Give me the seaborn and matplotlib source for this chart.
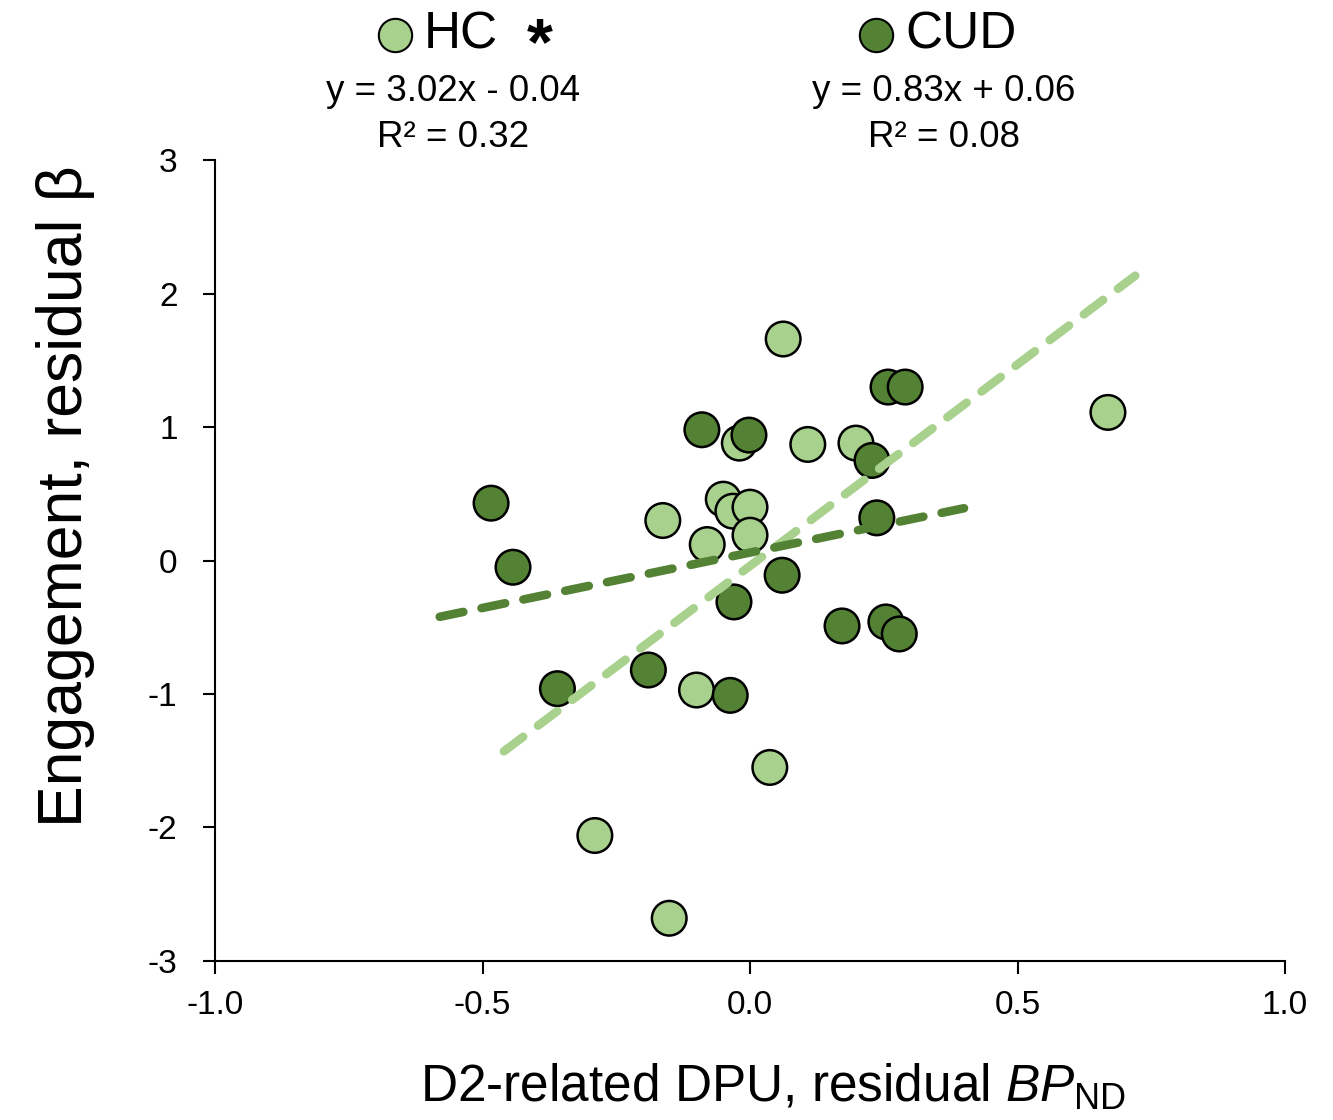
import matplotlib
matplotlib.use("Agg")
import matplotlib.pyplot as plt
from matplotlib.lines import Line2D
import seaborn as sns
import pandas as pd

# Residual D2-related DPU (BPND) vs. residual engagement beta
hc_x = [0.062, 0.669, 0.108, 0.198, -0.020, -0.050, -0.032, 0.000, 0.000,
        -0.163, -0.080, -0.100, 0.037, -0.290, -0.151]
hc_y = [1.66, 1.11, 0.87, 0.88, 0.88, 0.46, 0.37, 0.40, 0.19,
        0.30, 0.12, -0.97, -1.55, -2.06, -2.68]

cud_x = [-0.484, -0.443, -0.090, -0.002, 0.258, 0.290, 0.228, 0.237, 0.060,
         -0.030, 0.172, 0.254, 0.279, -0.190, -0.360, -0.037]
cud_y = [0.43, -0.05, 0.98, 0.94, 1.30, 1.30, 0.75, 0.32, -0.11,
         -0.31, -0.49, -0.46, -0.55, -0.82, -0.96, -1.01]

groups = ["HC", "CUD"]
slopes = [3.02, 0.83]
intercepts = [-0.04, 0.06]
r_squared = [0.32, 0.08]
fit_ranges = [(-0.46, 0.72), (-0.58, 0.40)]

x_ticks = [-1.0, -0.5, 0.0, 0.5, 1.0]
y_ticks = [-3, -2, -1, 0, 1, 2, 3]

colors = {"HC": "#A9D18E", "CUD": "#548235"}

sns.set_theme(style="ticks")
plt.rcParams["font.family"] = ["Liberation Sans", "DejaVu Sans"]
plt.rcParams["text.color"] = "black"
plt.rcParams["axes.labelcolor"] = "black"
plt.rcParams["mathtext.fontset"] = "custom"
plt.rcParams["mathtext.rm"] = "Liberation Sans"
plt.rcParams["mathtext.it"] = "Liberation Sans:italic"

df = pd.DataFrame({
    "x": hc_x + cud_x,
    "y": hc_y + cud_y,
    "group": ["HC"] * len(hc_x) + ["CUD"] * len(cud_x),
})

fig = plt.figure(figsize=(13.33, 11.2), dpi=100)
ax = fig.add_axes([0.1613, 0.142, 0.8027, 0.715])

sns.scatterplot(data=df, x="x", y="y", hue="group", palette=colors,
                s=620, edgecolor="black", linewidth=1.8, alpha=1,
                legend=False, ax=ax, zorder=3)

# Linear trend lines from the reported fits
fit_rows = []
for g, m, b, (x0, x1) in zip(groups, slopes, intercepts, fit_ranges):
    for xv in (x0, x1):
        fit_rows.append({"x": xv, "y": m * xv + b, "group": g})
fit_df = pd.DataFrame(fit_rows)
for g in groups:
    sub = fit_df[fit_df["group"] == g]
    sns.lineplot(data=sub, x="x", y="y", color=colors[g], lw=6.2,
                 ax=ax, zorder=4, legend=False)
for line in ax.get_lines():
    line.set_dashes([2.8, 2.16])
    line.set_dash_capstyle("round")

ax.set_xlim(-1.0, 1.0)
ax.set_ylim(-3, 3)
ax.set_xticks(x_ticks)
ax.set_xticklabels([f"{v:.1f}" for v in x_ticks])
ax.set_yticks(y_ticks)
ax.set_yticklabels([str(v) for v in y_ticks])
ax.tick_params(axis="both", direction="out", length=9, width=1.5,
               labelsize=24, colors="black", pad=12)
ax.tick_params(axis="y", pad=18)
for side in ["left", "bottom"]:
    ax.spines[side].set_linewidth(1.5)
    ax.spines[side].set_color("black")
sns.despine(ax=ax)

ax.set_xlabel(r"D2-related DPU, residual $\mathit{BP}_{\mathrm{ND}}$",
              fontsize=37)
ax.xaxis.set_label_coords(0.522, -0.127)
ax.set_ylabel("Engagement, residual β", fontsize=45)
ax.yaxis.set_label_coords(-0.112, 0.58)

# Group keys with fit equations above the plot
key_pos = [(0.296, 0.969), (0.657, 0.969)]
eq_x = [0.340, 0.708]
for g, m, b, r2, (kx, ky), cx in zip(groups, slopes, intercepts, r_squared,
                                      key_pos, eq_x):
    fig.add_artist(Line2D([kx], [ky], marker="o", markersize=24,
                          markerfacecolor=colors[g], markeredgecolor="black",
                          markeredgewidth=1.5, transform=fig.transFigure))
    fig.text(kx + 0.022, ky, g, fontsize=37, ha="left", va="center")
    sign = "-" if b < 0 else "+"
    fig.text(cx, 0.918, f"y = {m:.2f}x {sign} {abs(b):.2f}",
             fontsize=26.5, ha="center", va="center")
    fig.text(cx, 0.877, f"R² = {r2:.2f}", fontsize=26.5, ha="center",
             va="center")

fig.text(0.405, 0.958, "*", fontsize=48, ha="center", va="center",
         fontweight="bold")

fig.savefig("out.png", dpi=100)
